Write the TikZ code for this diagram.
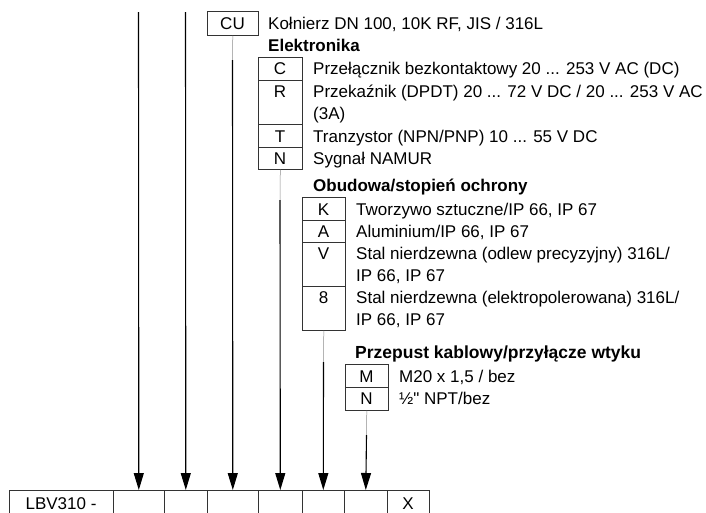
\documentclass[tikz,border=0pt]{standalone}
\usepackage{fontspec}
\setmainfont{Liberation Sans}
\newfontfamily\plainfont{Liberation Sans}
\usetikzlibrary{arrows.meta}
\begin{document}
\begin{tikzpicture}[x=1pt,y=-1pt,
  cell/.style={draw=black!80, line width=0.6pt, inner sep=0pt, anchor=north west},
  code/.style={font=\fontsize{17}{20}\selectfont, anchor=base, inner sep=0pt},
  desc/.style={font=\fontsize{17}{20}\selectfont, anchor=base west, inner sep=0pt},
  head/.style={font=\fontsize{17}{20}\selectfont\bfseries, anchor=base west, inner sep=0pt},
  arr/.style={line width=1.1pt, -{Triangle[width=10pt,length=17pt]}},
  stub/.style={draw=black!45, line width=0.5pt}]
\useasboundingbox (0,0) rectangle (706,512);

% CU
\node[cell, minimum width=51pt, minimum height=24pt] (cu) at (207,11) {};
\node[code] (cut) at (232.5,29) {CU};
\node[desc] (cud) at (268,29) {Kołnierz DN 100, 10K RF, JIS / 316L};
\node[head] (h1) at (268,51) {Elektronika};

% Elektronika
\node[cell, minimum width=44pt, minimum height=23pt] (ec) at (258,57) {};
\node[cell, minimum width=44pt, minimum height=44pt] (er) at (258,80) {};
\node[cell, minimum width=44pt, minimum height=23pt] (et) at (258,124) {};
\node[cell, minimum width=44pt, minimum height=22pt] (en) at (258,147) {};
\node[code] (ect) at (280,74) {C};
\node[code] (ert) at (280,97) {R};
\node[code] (ett) at (280,142) {T};
\node[code] (ent) at (280,164) {N};
\node[desc] (ecd) at (313,74) {Przełącznik bezkontaktowy 20 ... 253 V AC (DC)};
\node[desc] (erd) at (313,97) {Przekaźnik (DPDT) 20 ... 72 V DC / 20 ... 253 V AC};
\node[desc] (erd2) at (313,119) {(3A)};
\node[desc] (etd) at (313,142) {Tranzystor (NPN/PNP) 10 ... 55 V DC};
\node[desc] (end) at (313,164) {Sygnał NAMUR};
\node[head] (h2) at (313,191) {Obudowa/stopień ochrony};

% Obudowa
\node[cell, minimum width=43pt, minimum height=23pt] (ok) at (302,197) {};
\node[cell, minimum width=43pt, minimum height=22pt] (oa) at (302,220) {};
\node[cell, minimum width=43pt, minimum height=44pt] (ov) at (302,242) {};
\node[cell, minimum width=43pt, minimum height=44pt] (o8) at (302,286) {};
\node[code] (okt) at (323.5,215) {K};
\node[code] (oat) at (323.5,237) {A};
\node[code] (ovt) at (323.5,259) {V};
\node[code] (o8t) at (323.5,303) {8};
\node[desc] (okd) at (356,215) {Tworzywo sztuczne/IP 66, IP 67};
\node[desc] (oad) at (356,237) {Aluminium/IP 66, IP 67};
\node[desc] (ovd) at (356,259) {Stal nierdzewna (odlew precyzyjny) 316L/};
\node[desc] (ovd2) at (356,281) {IP 66, IP 67};
\node[desc] (o8d) at (356,303) {Stal nierdzewna (elektropolerowana) 316L/};
\node[desc] (o8d2) at (356,325) {IP 66, IP 67};
\node[head, font=\fontsize{17.5}{20}\selectfont\bfseries] (h3) at (355,358) {Przepust kablowy/przyłącze wtyku};

% Przepust
\node[cell, minimum width=43pt, minimum height=23pt] (pm) at (345,364) {};
\node[cell, minimum width=43pt, minimum height=23pt] (pn) at (345,387) {};
\node[code] (pmt) at (366.5,382) {M};
\node[code] (pnt) at (366.5,404) {N};
\node[desc] (pmd) at (399,382) {M20 x 1,5 / bez};
\node[desc, font=\fontsize{17}{20}\plainfont] (pnd) at (399,404) {½" NPT/bez};

% bottom row
\node[cell, minimum width=104pt, minimum height=30pt] (b0) at (9,490) {};
\node[cell, minimum width=51pt, minimum height=30pt] (b1) at (113,490) {};
\node[cell, minimum width=43pt, minimum height=30pt] (b2) at (164,490) {};
\node[cell, minimum width=51pt, minimum height=30pt] (b3) at (207,490) {};
\node[cell, minimum width=44pt, minimum height=30pt] (b4) at (258,490) {};
\node[cell, minimum width=42pt, minimum height=30pt] (b5) at (302,490) {};
\node[cell, minimum width=43pt, minimum height=30pt] (b6) at (344,490) {};
\node[cell, minimum width=42pt, minimum height=30pt] (b7) at (387,490) {};
\node[code] (b0t) at (61,509) {LBV310 -};
\node[code] (b7t) at (408,509) {X};

% connectors
\coordinate (s1) at (138.5,12);
\coordinate (s2) at (185.5,12);
\coordinate (j3) at (232.5,60);
\coordinate (j4) at (280,200);
\coordinate (j5) at (323.5,362);
\coordinate (j6) at (366.5,435);
\draw[arr] (s1) -- (b1.north);
\draw[arr] (s2) -- (b2.north);
\draw[stub] (cu.south) -- (j3);
\draw[arr] (j3) -- (b3.north);
\draw[stub] (en.south) -- (j4);
\draw[arr] (j4) -- (b4.north);
\draw[stub] (o8.south) -- (j5);
\draw[arr] (j5) -- (b5.north);
\draw[stub] (pn.south) -- (j6);
\draw[arr] (j6) -- (b6.north);
\end{tikzpicture}
\end{document}
